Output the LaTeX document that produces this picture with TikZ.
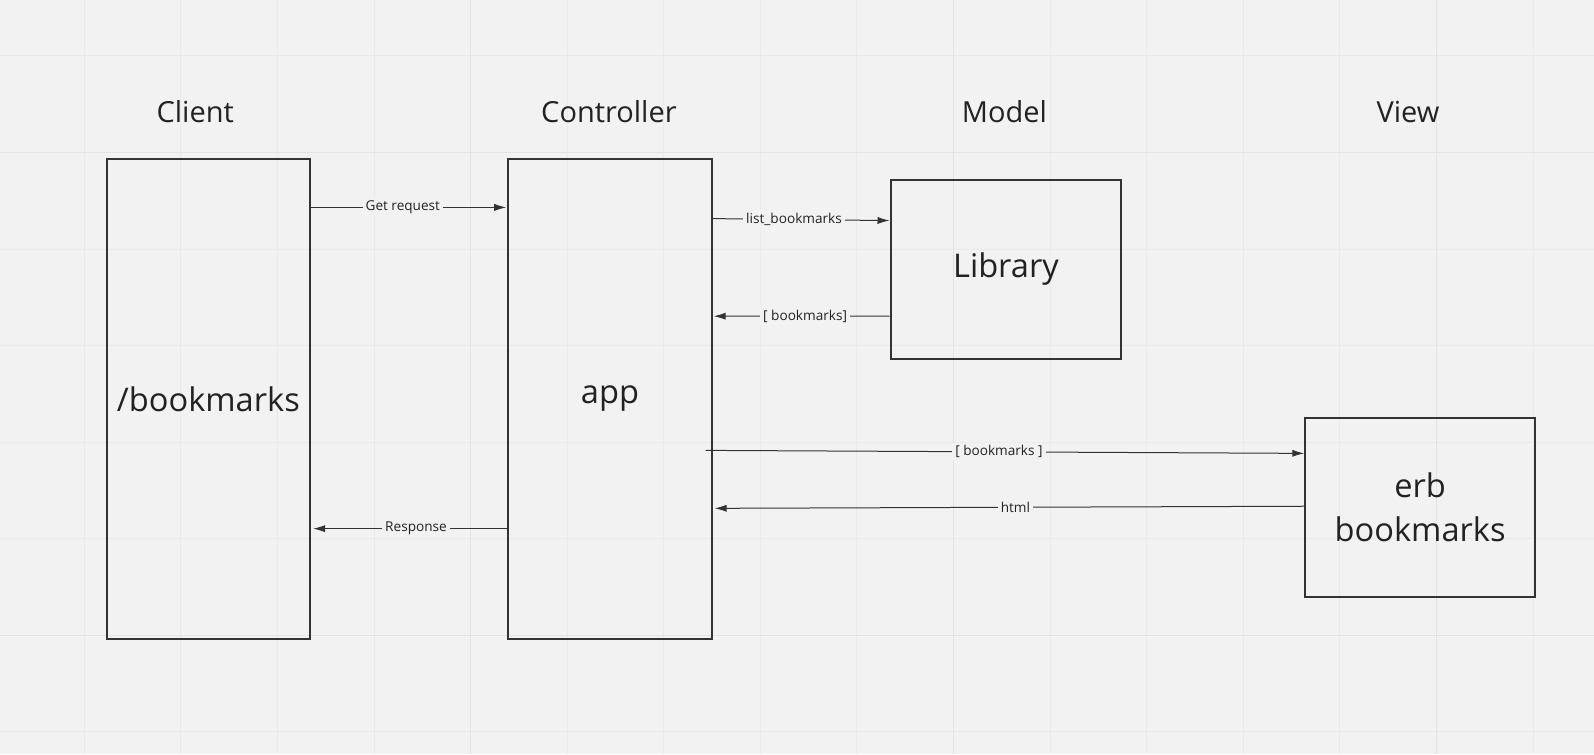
\documentclass[tikz,border=0pt]{standalone}
\usepackage{fontspec}
\setmainfont{Open Sans}
\usepackage{tikz}
\usetikzlibrary{arrows.meta, positioning, calc}
\usepackage{xcolor}
\definecolor{bg}{HTML}{F2F2F2}
\definecolor{minorgrid}{HTML}{EAEAEA}
\definecolor{majorgrid}{HTML}{E3E3E3}
\definecolor{ink}{HTML}{222222}
\definecolor{edge}{HTML}{333333}

\begin{document}
\begin{tikzpicture}[x=0.5083pt, y=-0.5083pt,
    title/.style={text=ink, font=\fontsize{14.5}{17}\selectfont},
    block/.style={rectangle, draw=edge, line width=1pt, text=ink, align=center,
        font=\fontsize{16.3}{22}\selectfont},
    flow/.style={draw=edge, line width=0.5pt, -{Latex[length=6pt, width=3.6pt]}},
    tag/.style={fill=bg, text=ink, inner sep=1.5pt, font=\fontsize{6.8}{8}\selectfont}]

    % background and grid
    \fill[bg] (0,0) rectangle (1568,742);
    \useasboundingbox (0,0) rectangle (1568,742);
    \foreach \x in {83,178,...,1508} \draw[minorgrid, line width=0.5pt] (\x,0) -- (\x,742);
    \foreach \y in {55,150,...,720} \draw[minorgrid, line width=0.5pt] (0,\y) -- (1568,\y);
    \foreach \x in {463,938,1413} \draw[majorgrid, line width=0.8pt] (\x,0) -- (\x,742);
    \foreach \y in {150,625} \draw[majorgrid, line width=0.8pt] (0,\y) -- (1568,\y);

    % column titles
    \node (tclient) [title] at (192,110) {Client};
    \node (tcontroller) [title] at (599,110) {Controller};
    \node (tmodel) [title] at (988,110) {Model};
    \node (tview) [title] at (1385,110) {View};

    % boxes
    \node (client) [block, minimum width=101.7pt, minimum height=240.4pt] at (205,392.5) {/bookmarks};
    \node (app) [block, minimum width=101.7pt, minimum height=240.4pt] at (600,392.5) {app};
    \node (library) [block, minimum width=115.4pt, minimum height=89.5pt] at (989.5,265) {Library};
    \node (erb) [block, minimum width=114.9pt, minimum height=89.5pt] at (1397,499) {erb\\bookmarks};

    % messages
    \draw [flow] ($(client.north east)+(0,49)$) -- node[tag, pos=0.47]{Get request} ($(app.north west)+(-1,49)$);
    \draw [flow] ($(app.north east)+(0,60)$) -- node[tag, pos=0.46]{list\_bookmarks} ($(library.north west)+(0,41)$);
    \draw [flow] ($(library.north west)+(0,135)$) -- node[tag, pos=0.48]{[ bookmarks]} ($(app.north east)+(1,156)$);
    \draw [flow] ($(app.north east)+(-7,288)$) -- node[tag, pos=0.49]{[ bookmarks ]} ($(erb.north west)+(0,36)$);
    \draw [flow] ($(erb.north west)+(0,88)$) -- node[tag, pos=0.49]{html} ($(app.north east)+(2,345)$);
    \draw [flow] ($(app.north west)+(0,365)$) -- node[tag, pos=0.47]{Response} ($(client.north east)+(2,365)$);
\end{tikzpicture}
\end{document}
